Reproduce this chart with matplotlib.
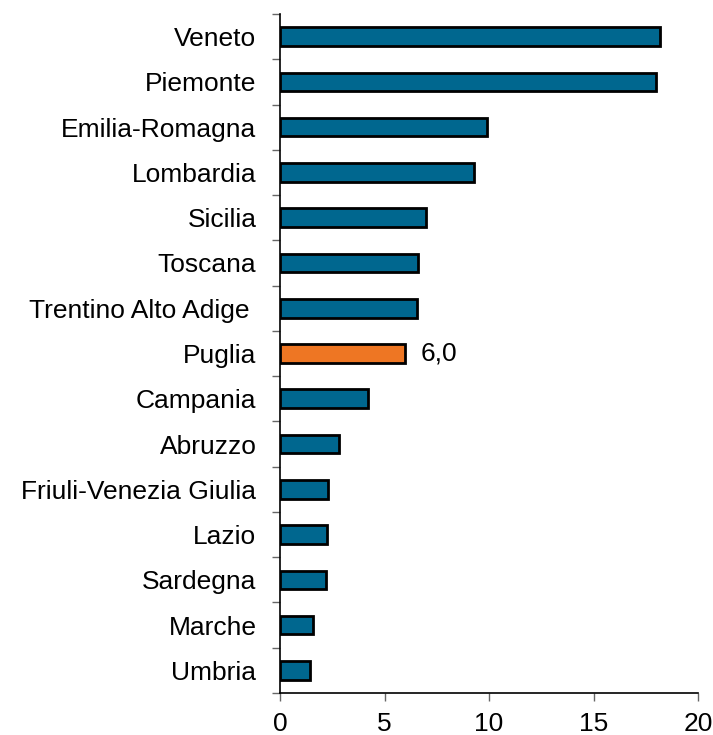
import matplotlib.pyplot as plt
import numpy as np

plt.rcParams['font.family'] = ['Liberation Sans', 'DejaVu Sans']

regioni = ["Veneto", "Piemonte", "Emilia-Romagna", "Lombardia", "Sicilia",
           "Toscana", "Trentino Alto Adige ", "Puglia", "Campania", "Abruzzo",
           "Friuli-Venezia Giulia", "Lazio", "Sardegna", "Marche", "Umbria"]
valori = [18.2, 18.0, 9.9, 9.3, 7.0, 6.6, 6.55, 6.0, 4.2, 2.8, 2.3, 2.25, 2.2, 1.6, 1.45]
evidenza = "Puglia"
etichetta = "6,0"

BLU = "#00678F"
ARANCIO = "#EE7623"

fig = plt.figure(figsize=(7.13, 7.35), dpi=100)
ax = fig.add_axes([280 / 713, 1 - 693 / 735, 418 / 713, 679 / 735])

y = np.arange(len(regioni))
colori = [ARANCIO if r == evidenza else BLU for r in regioni]
ax.barh(y, valori, height=0.41, color=colori, edgecolor="black", linewidth=2, zorder=3)

ax.set_ylim(len(regioni) - 0.5, -0.5)
ax.set_xlim(0, 20)
ax.set_xticks([0, 5, 10, 15, 20])
ax.set_xticklabels(["0", "5", "10", "15", "20"], fontsize=19)

# etichette al centro, tick tra le categorie
ax.set_yticks(y)
ax.set_yticklabels(regioni, fontsize=19)
ax.tick_params(axis="y", which="major", length=0, pad=17)
ax.set_yticks(np.arange(len(regioni) + 1) - 0.5, minor=True)
ax.tick_params(axis="y", which="minor", length=6, width=1, color="#666666", direction="out")
ax.tick_params(axis="x", length=6, width=1, color="#666666", direction="out", pad=8)

for s in ["top", "right"]:
    ax.spines[s].set_visible(False)
for s in ["left", "bottom"]:
    ax.spines[s].set_color("black")
    ax.spines[s].set_linewidth(1.2)

i = regioni.index(evidenza)
ax.annotate(etichetta, xy=(valori[i], i), xytext=(11, 0), textcoords="offset points",
            va="center", ha="left", fontsize=19)

fig.savefig("out.png", dpi=100)
